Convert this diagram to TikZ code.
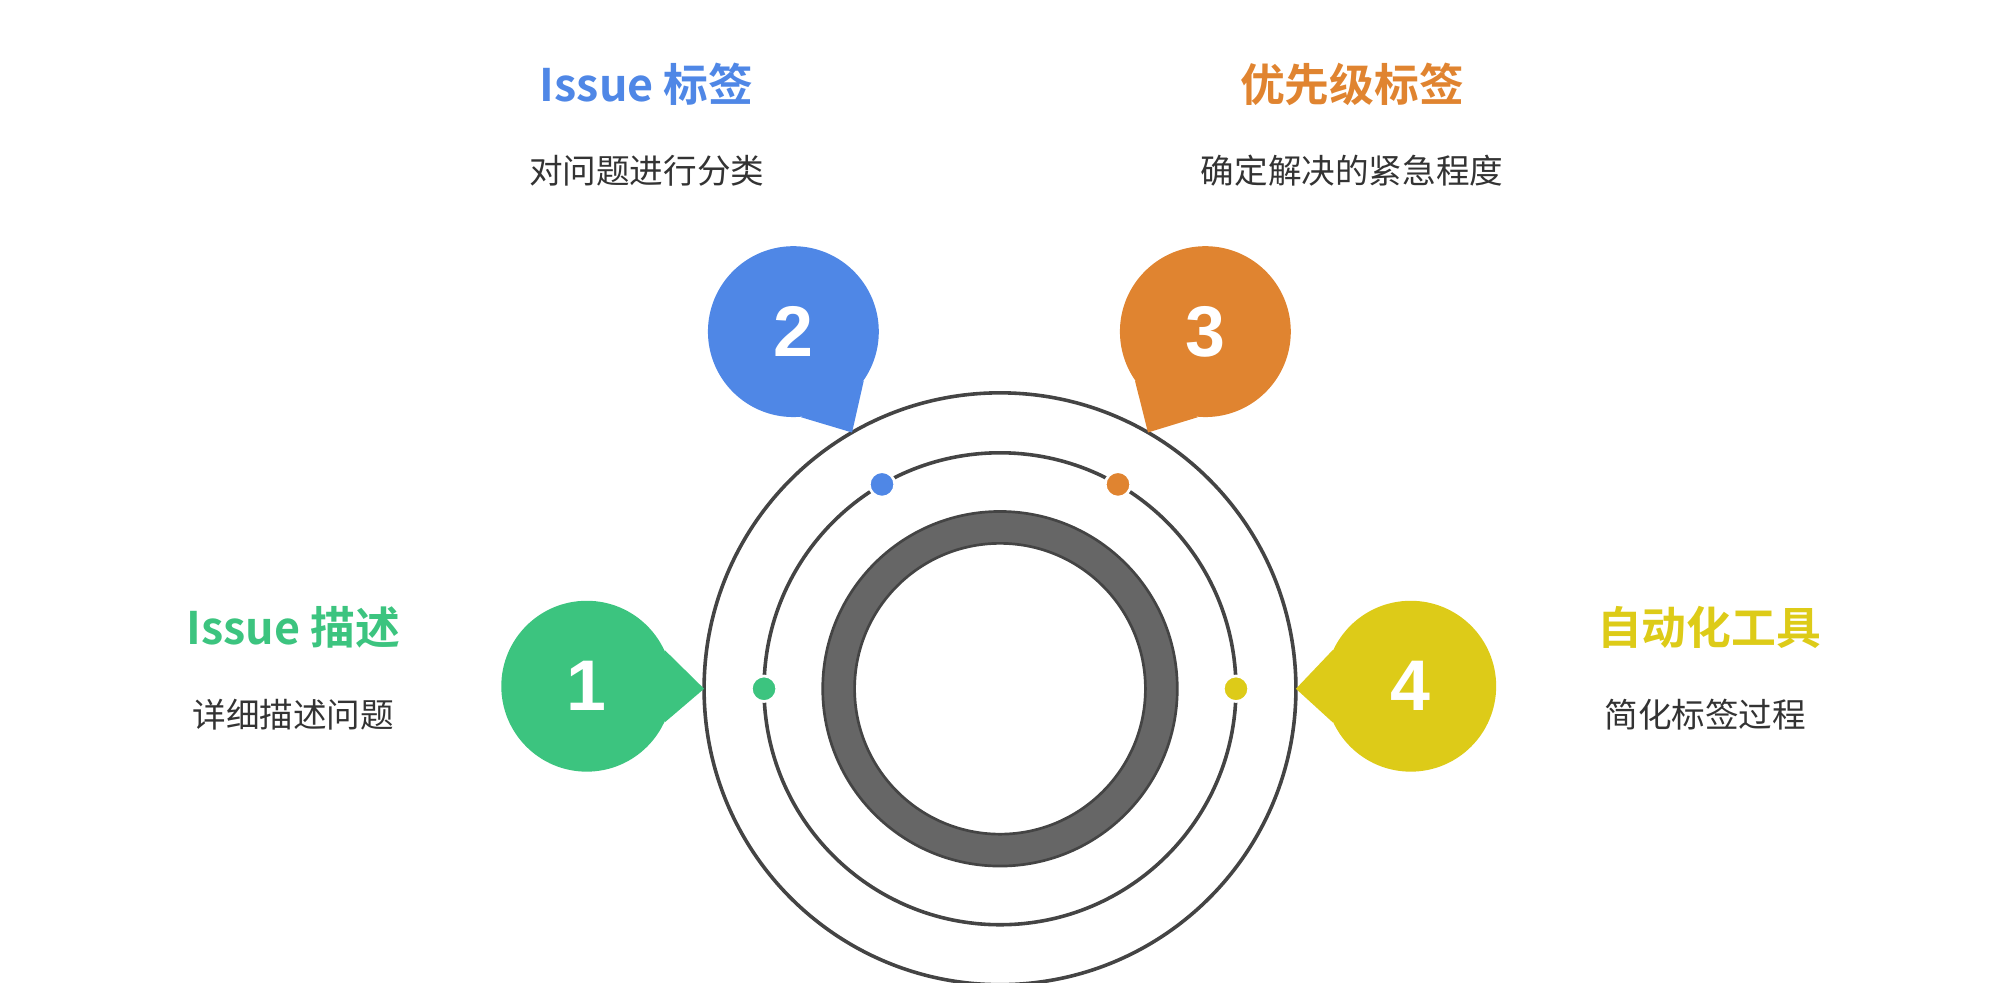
\documentclass[tikz,border=0pt]{standalone}
\usepackage{fontspec}
\setmainfont{Liberation Sans}
\newfontfamily\cjk{Noto Sans CJK SC}
\newfontfamily\cjkbold{Noto Sans CJK SC Bold}
\usetikzlibrary{calc,positioning}

\definecolor{cgreen}{HTML}{3CC47F}
\definecolor{cblue}{HTML}{4F87E6}
\definecolor{corange}{HTML}{E08430}
\definecolor{cyellow}{HTML}{DDCB18}
\definecolor{cring}{HTML}{444444}
\definecolor{ctext}{HTML}{333333}

\tikzset{
    bubble/.style={circle,fill=#1,minimum size=2.68cm,inner sep=0pt,
                   text=white,font=\fontsize{32}{36}\selectfont\bfseries},
    title/.style={text=#1,font=\cjkbold\fontsize{20}{24}\selectfont},
    subtitle/.style={text=ctext,font=\cjk\fontsize{15}{18}\selectfont},
    dot/.style={circle,fill=#1,draw=white,line width=1.2pt,minimum size=0.4cm,inner sep=0pt}
}

\begin{document}
\begin{tikzpicture}[x=0.02cm,y=0.02cm]
    \useasboundingbox (0,0) rectangle (1568,770);
    \coordinate (C) at (784,230);

    % rings
    \draw [cring, line width=1.6pt] (C) circle (232);
    \draw [cring, line width=1.6pt] (C) circle (185);
    \draw [cring, fill=black!60, even odd rule, line width=1.2pt] (C) circle (139) (C) circle (114);

    % dots on the middle ring
    \node at ($(C)+(180:185)$) (d1) [dot=cgreen]  {};
    \node at ($(C)+(120:185)$) (d2) [dot=cblue]   {};
    \node at ($(C)+(60:185)$)  (d3) [dot=corange] {};
    \node at ($(C)+(0:185)$)   (d4) [dot=cyellow] {};

    % bubbles
    \node at ( 460, 232) (b1) [bubble=cgreen]  {1};
    \node at ( 622, 510) (b2) [bubble=cblue]   {2};
    \node at ( 945, 510) (b3) [bubble=corange] {3};
    \node at (1106, 232) (b4) [bubble=cyellow] {4};
    \coordinate (t1) at ($(C)+(180:232)$);
    \coordinate (t2) at ($(C)+(120:232)$);
    \coordinate (t3) at ($(C)+(60:232)$);
    \coordinate (t4) at ($(C)+(0:232)$);
    \fill [cgreen]  (b1.25)  -- (t1) -- (b1.-25);
    \fill [cblue]   (b2.-35) -- (t2) -- (b2.-85);
    \fill [corange] (b3.265) -- (t3) -- (b3.215);
    \fill [cyellow] (b4.155) -- (t4) -- (b4.205);

    % labels
    \node at ( 230, 278) (h1) [title=cgreen]   {Issue 描述};
    \node at ( 230, 210) (s1) [subtitle]       {详细描述问题};
    \node at ( 507, 704) (h2) [title=cblue]    {Issue 标签};
    \node at ( 507, 636) (s2) [subtitle]       {对问题进行分类};
    \node at (1060, 704) (h3) [title=corange]  {优先级标签};
    \node at (1060, 636) (s3) [subtitle]       {确定解决的紧急程度};
    \node at (1340, 278) (h4) [title=cyellow]  {自动化工具};
    \node at (1337, 210) (s4) [subtitle]       {简化标签过程};
\end{tikzpicture}
\end{document}
